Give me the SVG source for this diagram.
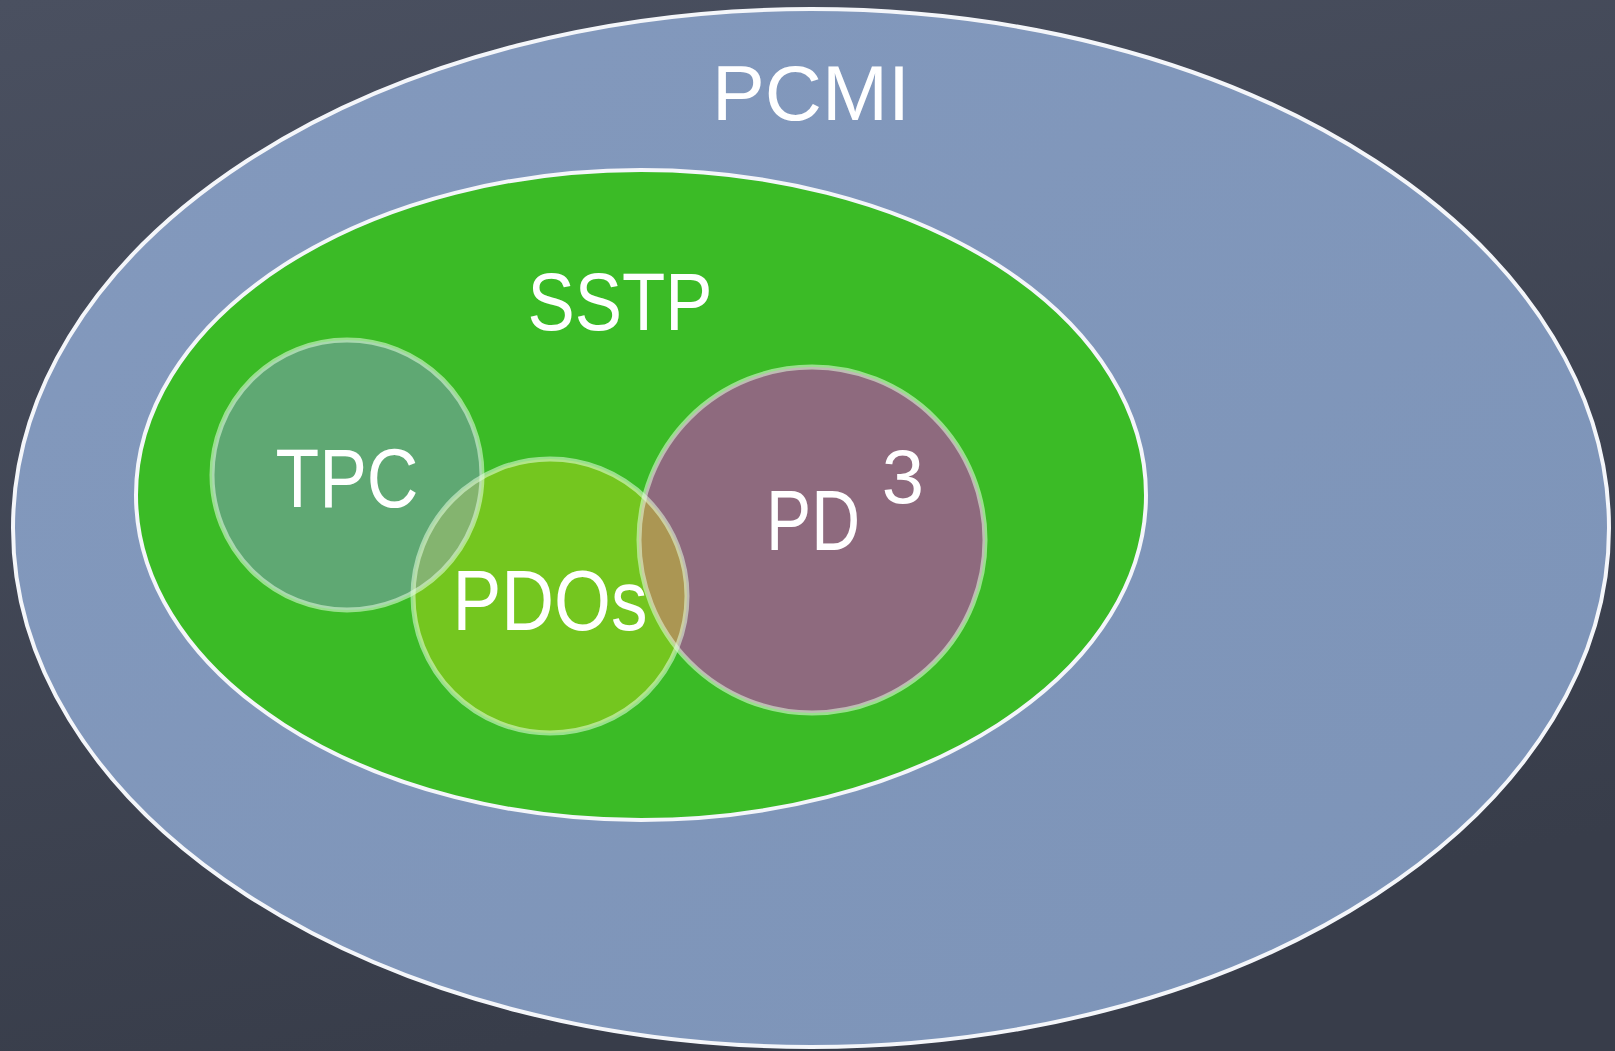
<svg xmlns="http://www.w3.org/2000/svg" width="1615" height="1051" viewBox="0 0 1615 1051">
  <defs>
    <linearGradient id="bg" x1="0" y1="0" x2="0.3" y2="1">
      <stop offset="0" stop-color="#4a5060"/>
      <stop offset="1" stop-color="#383d4a"/>
    </linearGradient>
    <linearGradient id="blue" x1="0" y1="0" x2="1" y2="1">
      <stop offset="0" stop-color="#8399bd"/>
      <stop offset="1" stop-color="#7d94b8"/>
    </linearGradient>
    <clipPath id="clipPDOs"><circle cx="550" cy="596" r="137"/></clipPath>
    <clipPath id="clipTPC"><circle cx="347" cy="475" r="135"/></clipPath>
    <clipPath id="clipPD3"><circle cx="812" cy="540" r="173"/></clipPath>
    <style>
      .lbl { font-family: "Liberation Sans", "DejaVu Sans", sans-serif; fill: #ffffff; text-anchor: middle; }
      .ring { fill: none; stroke: #e6ffe0; stroke-opacity: 0.55; stroke-width: 5; }
      .bound { stroke: #f4f6fa; stroke-width: 4; }
    </style>
  </defs>
  <rect x="0" y="0" width="1615" height="1051" fill="url(#bg)"/>

  <g id="PCMI">
    <ellipse class="bound" cx="811" cy="528" rx="798" ry="519" fill="url(#blue)"/>
    <text class="lbl" x="811" y="120" font-size="77" textLength="198" lengthAdjust="spacingAndGlyphs">PCMI</text>
  </g>

  <g id="SSTP">
    <ellipse class="bound" cx="641" cy="495" rx="505" ry="325" fill="#3bbb26"/>
    <text class="lbl" x="620" y="330" font-size="81" textLength="185" lengthAdjust="spacingAndGlyphs">SSTP</text>
  </g>

  <g id="TPC">
    <circle cx="347" cy="475" r="135" fill="#5fa873"/>
  </g>

  <g id="PDOs">
    <circle cx="550" cy="596" r="137" fill="#74c61f"/>
    <circle cx="347" cy="475" r="135" fill="#84b46f" clip-path="url(#clipPDOs)"/>
  </g>

  <g id="PD3">
    <circle cx="812" cy="540" r="173" fill="#8e6a7e"/>
    <circle cx="550" cy="596" r="137" fill="#ab9653" clip-path="url(#clipPD3)"/>
  </g>

  <g id="rings">
    <circle class="ring" cx="347" cy="475" r="135"/>
    <circle class="ring" cx="550" cy="596" r="137"/>
    <circle class="ring" cx="812" cy="540" r="173"/>
  </g>

  <g id="labels">
    <text class="lbl" x="347" y="507" font-size="84" textLength="143" lengthAdjust="spacingAndGlyphs">TPC</text>
    <text class="lbl" x="550" y="630" font-size="86" textLength="195" lengthAdjust="spacingAndGlyphs">PDOs</text>
    <text class="lbl" x="813" y="550" font-size="86" textLength="94" lengthAdjust="spacingAndGlyphs">PD</text>
    <text class="lbl" x="903" y="503" font-size="76">3</text>
  </g>
</svg>
